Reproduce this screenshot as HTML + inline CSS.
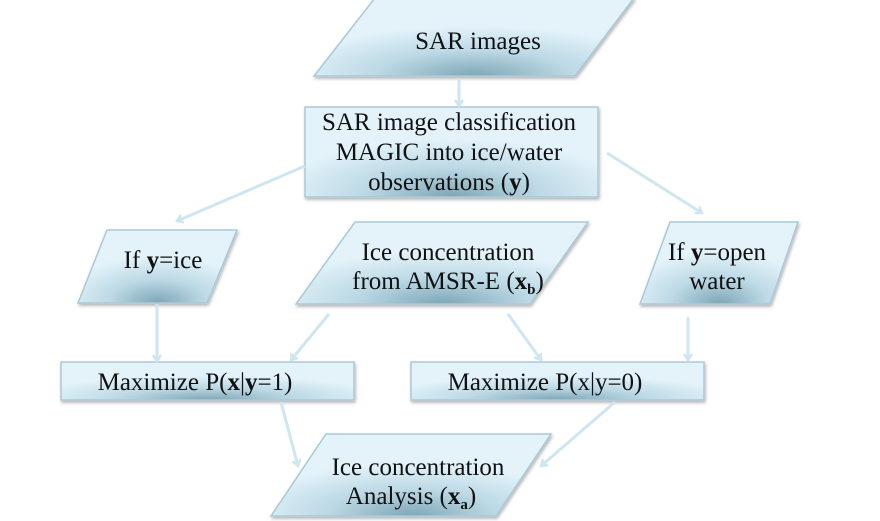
<!DOCTYPE html>
<html><head><style>
html,body{margin:0;padding:0;background:#fff;}
svg{display:block;}
text{font-family:"Liberation Serif",serif;font-size:25px;fill:#111;text-anchor:middle;}
</style></head><body>
<svg width="880" height="521" viewBox="0 0 880 521">
<defs>
<radialGradient id="g" cx="0.5" cy="0.95" r="0.6" fx="0.5" fy="1">
<stop offset="0" stop-color="#7ea6b6"/>
<stop offset="0.5" stop-color="#bcd9e5"/>
<stop offset="1" stop-color="#e4f3fa"/>
</radialGradient>
<filter id="s" x="-10%" y="-10%" width="120%" height="130%"><feDropShadow dx="1" dy="2" stdDeviation="1.5" flood-color="#000" flood-opacity="0.3"/></filter>
<marker id="a" markerWidth="10" markerHeight="10" refX="7" refY="5" orient="auto" markerUnits="userSpaceOnUse"><path d="M1,1 L7,5 L1,9" fill="none" stroke="#cfe6f1" stroke-width="2.5"/></marker>
</defs>
<g fill="url(#g)" stroke="#a9c9d7" stroke-width="1.5" filter="url(#s)">
<polygon points="375,-2 634,-2 575,76 314,76"/>
<rect x="305" y="107" width="293" height="90"/>
<polygon points="107,230 237,230 207,303 78,303"/>
<polygon points="355,222 588,222 530,304 296,304"/>
<polygon points="670,222 798,222 770,304 640,304"/>
<rect x="61" y="362" width="293" height="38"/>
<rect x="411" y="362" width="293" height="38"/>
<polygon points="326,434 551,434 496,516 271,516"/>
</g>
<g stroke="#cfe6f1" stroke-width="3" marker-end="url(#a)" fill="none">
<line x1="459" y1="78" x2="459" y2="106"/>
<line x1="305" y1="166" x2="177" y2="221"/>
<line x1="607" y1="153" x2="702" y2="213"/>
<line x1="157" y1="304" x2="157" y2="361"/>
<line x1="329" y1="314" x2="291" y2="360"/>
<line x1="508" y1="314" x2="541" y2="360"/>
<line x1="688" y1="317" x2="688" y2="360"/>
<line x1="281" y1="402" x2="298" y2="466"/>
<line x1="615" y1="402" x2="541" y2="466"/>
</g>
<text x="478" y="49">SAR images</text>
<text x="449" y="130">SAR image classification</text>
<text x="449" y="160">MAGIC into ice/water</text>
<text x="449" y="190">observations (<tspan font-weight="bold">y</tspan>)</text>
<text x="163" y="268">If <tspan font-weight="bold">y</tspan>=ice</text>
<text x="448" y="260">Ice concentration</text>
<text x="448" y="289">from AMSR-E (<tspan font-weight="bold">x<tspan font-size="15" dy="5">b</tspan></tspan><tspan dy="-5">)</tspan></text>
<text x="717" y="260">If <tspan font-weight="bold">y</tspan>=open</text>
<text x="717" y="289">water</text>
<text x="195" y="390">Maximize P(<tspan font-weight="bold">x</tspan>|<tspan font-weight="bold">y</tspan>=1)</text>
<text x="545" y="390">Maximize P(x|y=0)</text>
<text x="418" y="475">Ice concentration</text>
<text x="411" y="504">Analysis (<tspan font-weight="bold">x<tspan font-size="15" dy="5">a</tspan></tspan><tspan dy="-5">)</tspan></text>
</svg>
</body></html>
